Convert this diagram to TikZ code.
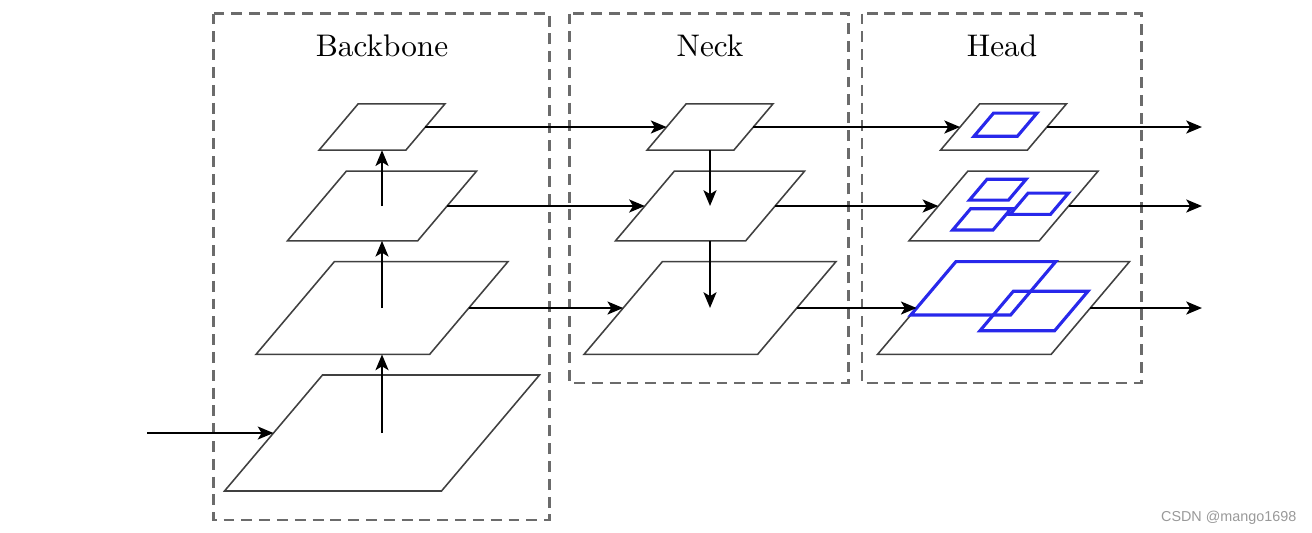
\documentclass[tikz,border=0pt]{standalone}
\usepackage{fontspec}
\newfontfamily\wmfont{Liberation Sans}
\usetikzlibrary{arrows.meta,calc,positioning}
\definecolor{boxblue}{RGB}{40,40,235}
\tikzset{
    arr/.style={-{Stealth[length=5pt,width=4.1pt,inset=1.2pt]}, line width=0.9pt},
    plane/.style={draw=black!75, line width=0.5pt},
    stage/.style={draw=black!58, line width=0.66pt, dash pattern=on 3.5pt off 2.2pt},
    det/.style={draw=boxblue, line width=1pt},
    onmap/.style n args={3}{shift={(#1,#2)}, x={(#3*6.944pt,0pt)}, y={(#3*3.136pt,#3*3.712pt)}}
}
% one slanted feature map: name, centre x, centre y, size
\newcommand{\featmap}[4]{%
  \begin{scope}[onmap={#2}{#3}{#4}]
    \draw[plane] (-1,-1) -- (1,-1) -- (1,1) -- (-1,1) -- cycle;
    \coordinate (#1) at (0,0);
    \coordinate (#1-w) at (-1,0);
    \coordinate (#1-e) at (1,0);
    \coordinate (#1-s) at (0,-1);
  \end{scope}}
\newcommand{\detbox}[4]{\draw[det] (#1,#3) -- (#2,#3) -- (#2,#4) -- (#1,#4) -- cycle;}

\begin{document}
\begin{tikzpicture}[x=0.32pt, y=-0.32pt]
    \useasboundingbox (0,0) rectangle (1312,532);

    % stages
    \draw[stage] (213.5,13.5) rectangle (549.5,520);
    \draw[stage] (569.5,13.5) rectangle (848.5,383);
    \draw[stage] (862,13.5) rectangle (1141.5,383);
    \node (bbt) at (382,46) {Backbone};
    \node (nkt) at (710,46) {Neck};
    \node (hdt) at (1002,46) {Head};

    % backbone
    \featmap{bb1}{382}{127}{2}
    \featmap{bb2}{382}{206}{3}
    \featmap{bb3}{382}{308}{4}
    \featmap{bb4}{382}{433}{5}
    % neck
    \featmap{nk1}{710}{127}{2}
    \featmap{nk2}{710}{206}{3}
    \featmap{nk3}{710}{308}{4}
    % head
    \featmap{hd1}{1003.5}{127}{2}
    \featmap{hd2}{1003.5}{206}{3}
    \featmap{hd3}{1003.5}{308}{4}

    \begin{scope}[onmap={1003.5}{127}{2}]
      \detbox{-0.5}{0.5}{-0.4}{0.6}
    \end{scope}
    \begin{scope}[onmap={1003.5}{206}{3}]
      \detbox{-0.6}{0}{0.17}{0.77}
      \detbox{0.21}{0.83}{-0.24}{0.37}
      \detbox{-0.47}{0.15}{-0.69}{-0.08}
    \end{scope}
    \begin{scope}[onmap={1003.5}{308}{4}]
      \detbox{-1}{0.15}{-0.15}{1}
      \detbox{-0.05}{0.81}{-0.49}{0.36}
    \end{scope}

    \coordinate (in) at (147,433);
    \coordinate (out1) at (1202,127);
    \coordinate (out2) at (1202,206);
    \coordinate (out3) at (1202,308);

    \draw[arr] (in) -- (bb4-w);
    \draw[arr] (bb4) -- (bb4 |- bb3-s);
    \draw[arr] (bb3) -- (bb3 |- bb2-s);
    \draw[arr] (bb2) -- (bb2 |- bb1-s);

    \draw[arr] (bb1-e) -- (nk1-w);
    \draw[arr] (bb2-e) -- (nk2-w);
    \draw[arr] (bb3-e) -- (nk3-w);
    \draw[arr] (nk1 |- nk1-s) -- (nk2);
    \draw[arr] (nk2 |- nk2-s) -- (nk3);

    \draw[arr] (nk1-e) -- (hd1-w);
    \draw[arr] (nk2-e) -- (hd2-w);
    \draw[arr] (nk3-e) -- (hd3-w);
    \draw[arr] (hd1-e) -- (out1);
    \draw[arr] (hd2-e) -- (out2);
    \draw[arr] (hd3-e) -- (out3);

    \node[text=black!40, font=\wmfont\fontsize{4.6}{5}\selectfont, anchor=base east, inner sep=0pt] (wm) at (1297,521) {CSDN @mango1698};
\end{tikzpicture}
\end{document}
